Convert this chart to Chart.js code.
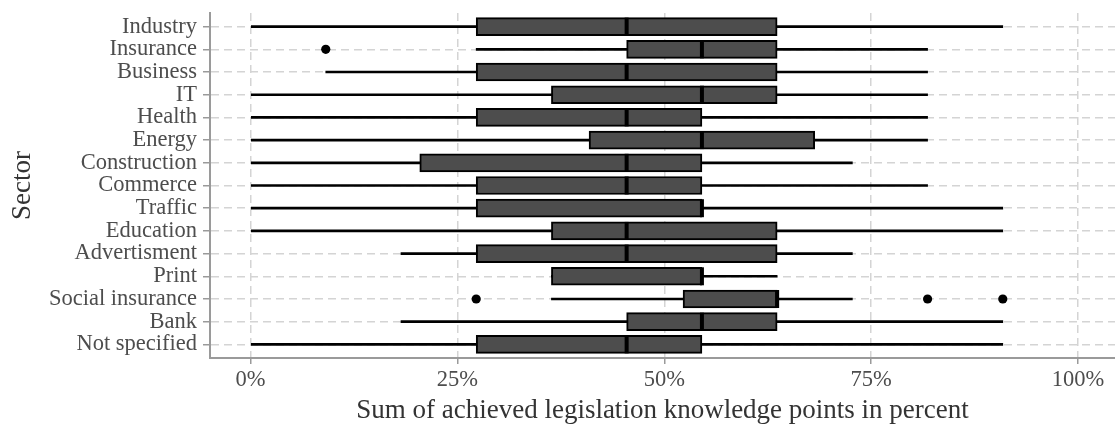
<!DOCTYPE html>
<html>
<head>
<meta charset="utf-8">
<script src="https://cdn.jsdelivr.net/npm/chart.js@4.4.1/dist/chart.umd.min.js"></script>
<style>
  html, body { margin: 0; padding: 0; background: #fff; }
</style>
</head>
<body>
<canvas id="boxChart" width="1115" height="428"></canvas>
<script>
// sectors, top to bottom
const sectors = ['Industry', 'Insurance', 'Business', 'IT', 'Health', 'Energy', 'Construction',
  'Commerce', 'Traffic', 'Education', 'Advertisment', 'Print', 'Social insurance', 'Bank', 'Not specified'];

// box plot stats (percent)
const whiskerLow  = [0, 27.27, 9.09, 0, 0, 0, 0, 0, 0, 0, 18.18, 36.36, 36.36, 18.18, 0];
const q1          = [27.27, 45.45, 27.27, 36.36, 27.27, 40.91, 20.45, 27.27, 27.27, 36.36, 27.27, 36.36, 52.27, 45.45, 27.27];
const medians     = [45.45, 54.55, 45.45, 54.55, 45.45, 54.55, 45.45, 45.45, 54.55, 45.45, 45.45, 54.55, 63.64, 54.55, 45.45];
const q3          = [63.64, 63.64, 63.64, 63.64, 54.55, 68.18, 54.55, 54.55, 54.55, 63.64, 63.64, 54.55, 63.64, 63.64, 54.55];
const whiskerHigh = [90.91, 81.82, 81.82, 81.82, 81.82, 81.82, 72.73, 81.82, 90.91, 90.91, 72.73, 63.64, 72.73, 90.91, 90.91];

// outliers
const outlierSector = ['Insurance', 'Social insurance', 'Social insurance', 'Social insurance'];
const outlierValue  = [9.09, 27.27, 81.82, 90.91];

const xTicks = [0, 25, 50, 75, 100];

const FONT = "'Liberation Serif', 'Times New Roman', serif";
const gridColor = '#d4d4d4';
const axisColor = '#9a9a9a';

// y position of each sector (1 = top row)
const rowOf = s => sectors.indexOf(s) + 1;

const whiskerData = sectors.map((s, i) => ({ y: i + 1, x: [whiskerLow[i], whiskerHigh[i]] }));
const boxData = sectors.map((s, i) => ({ y: i + 1, x: [q1[i], q3[i]] }));
const medianData = sectors.map((s, i) => ({ y: i + 1, x: medians[i] }));
const outlierData = outlierSector.map((s, i) => ({ y: rowOf(s), x: outlierValue[i] }));

new Chart(document.getElementById('boxChart'), {
  type: 'bar',
  data: {
    datasets: [
      {
        label: 'whisker',
        data: whiskerData,
        backgroundColor: '#000',
        borderWidth: 0,
        barThickness: 2,
        grouped: false,
        order: 4
      },
      {
        label: 'box',
        data: boxData,
        backgroundColor: '#4d4d4d',
        borderColor: '#000',
        borderWidth: 2,
        borderSkipped: false,
        barThickness: 18,
        grouped: false,
        order: 3
      },
      {
        type: 'scatter',
        label: 'median',
        data: medianData,
        pointStyle: 'line',
        pointRotation: 90,
        pointRadius: 9,
        pointBorderWidth: 4,
        pointBorderColor: '#000',
        order: 2
      },
      {
        type: 'scatter',
        label: 'outlier',
        data: outlierData,
        pointStyle: 'circle',
        pointRadius: 4.6,
        pointBackgroundColor: '#000',
        pointBorderWidth: 0,
        order: 1
      }
    ]
  },
  options: {
    indexAxis: 'y',
    responsive: false,
    animation: false,
    layout: { autoPadding: false, padding: { top: 13, right: 0, bottom: 0, left: 0 } },
    plugins: {
      legend: { display: false },
      tooltip: { enabled: false }
    },
    scales: {
      x: {
        type: 'linear',
        min: -4.9,
        max: 104.47,
        afterBuildTicks: scale => { scale.ticks = xTicks.map(v => ({ value: v })); },
        afterFit: scale => {
          scale.height = 70;
          scale.paddingLeft = 0;
          scale.paddingRight = 0;
        },
        ticks: {
          callback: v => v + '%',
          color: '#4d4d4d',
          font: { family: FONT, size: 22.5 },
          padding: 3,
          maxRotation: 0
        },
        grid: { color: gridColor, lineWidth: 1.5, tickColor: axisColor, tickLength: 6, tickWidth: 1.5 },
        border: { color: axisColor, width: 2, dash: [8, 5] },
        title: {
          display: true,
          text: 'Sum of achieved legislation knowledge points in percent',
          color: '#333',
          font: { family: FONT, size: 27 },
          padding: { top: 0, bottom: 1 }
        }
      },
      y: {
        type: 'linear',
        reverse: true,
        offset: false,
        min: 0.4,
        max: 15.6,
        afterBuildTicks: scale => { scale.ticks = sectors.map((s, i) => ({ value: i + 1 })); },
        afterFit: scale => {
          scale.width = 210;
          scale.paddingTop = 0;
          scale.paddingBottom = 0;
        },
        ticks: {
          callback: v => sectors[v - 1],
          autoSkip: false,
          color: '#4d4d4d',
          font: { family: FONT, size: 22.5 },
          padding: 6
        },
        grid: { offset: false, color: gridColor, lineWidth: 1.5, tickColor: axisColor, tickLength: 7, tickWidth: 1.5 },
        border: { color: axisColor, width: 2, dash: [8, 5] },
        title: {
          display: true,
          text: 'Sector',
          color: '#333',
          font: { family: FONT, size: 27 },
          padding: { top: 7, bottom: 0 }
        }
      }
    }
  }
});
</script>
</body>
</html>
